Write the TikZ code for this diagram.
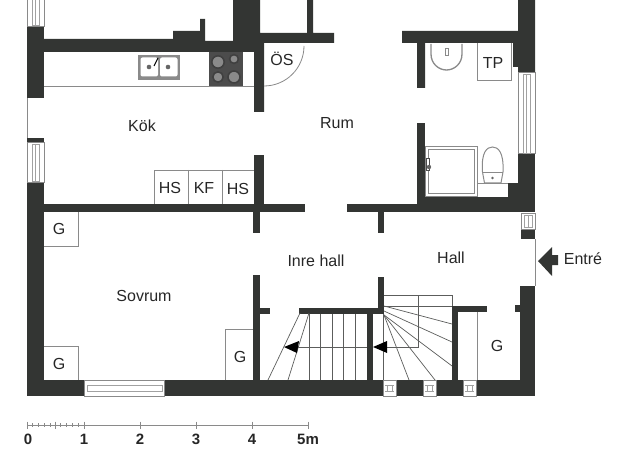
\documentclass[tikz,border=0pt]{standalone}
\usepackage{fontspec}
\setmainfont{Liberation Sans}
\definecolor{wallc}{HTML}{333533}
\definecolor{linec}{HTML}{8A8A8A}
\definecolor{textc}{HTML}{262626}
\tikzset{
  wall/.style={fill=wallc,draw=none},
  thin/.style={draw=linec,line width=0.8pt},
  stair/.style={draw=wallc!80,line width=0.7pt},
  win/.style={draw=linec,line width=0.8pt,fill=white},
  wininner/.style={draw=linec!80,line width=0.7pt},
  lbl/.style={font=\fontsize{16}{16}\selectfont,text=textc,inner sep=0pt},
  scl/.style={font=\fontsize{15}{15}\selectfont\bfseries,text=textc,inner sep=0pt},
  burner/.style={fill=linec,draw=black!75,line width=1.6pt},
  head/.style={fill=black,draw=none},
}
\begin{document}
\begin{tikzpicture}[x=1pt,y=-1pt]
\useasboundingbox (0,0) rectangle (625,460);
% thin outer lines
\draw[thin] (27,98) -- (27,138);
\draw[thin] (535,239) -- (535,286);
% walls
\fill[wall] (27,27) rectangle (44,98);
\fill[wall] (27,138) rectangle (44,142);
\fill[wall] (27,182) rectangle (44,396);
\fill[wall] (44,380) rectangle (84,396);
\fill[wall] (164,380) rectangle (383,396);
\fill[wall] (396,380) rectangle (423,396);
\fill[wall] (436,380) rectangle (463,396);
\fill[wall] (476,380) rectangle (535,396);
\fill[wall] (520,286) rectangle (535,396);
\fill[wall] (515,305) rectangle (520,312);
% north kitchen wall and column
\fill[wall] (44,39) -- (173,39) -- (173,31) -- (200,31) -- (200,19) -- (205,19) -- (205,41) -- (233,41) -- (233,0) -- (260,0) -- (260,33) -- (307,33) -- (307,0) -- (313,0) -- (313,33) -- (334,33) -- (334,43) -- (264,43) -- (264,112) -- (254,112) -- (254,52) -- (44,52) -- cycle;
% east bath walls
\fill[wall] (402,31) -- (518,31) -- (518,0) -- (535,0) -- (535,72) -- (518,72) -- (518,67) -- (513,67) -- (513,43) -- (425,43) -- (425,88) -- (417,88) -- (417,43) -- (402,43) -- cycle;
\fill[wall] (518,153) rectangle (535,212);
\fill[wall] (508,183) rectangle (518,204);
\fill[wall] (417,123) rectangle (425,204);
\fill[wall] (347,204) rectangle (535,212);
\fill[wall] (425,197) rectangle (518,204);
\fill[wall] (521,229) rectangle (535,239);
\fill[wall] (378,212) rectangle (384,233);
% south kitchen wall
\fill[wall] (44,204) rectangle (305,212);
\fill[wall] (254,155) rectangle (264,204);
\fill[wall] (253,212) rectangle (260,233);
% hall walls
\fill[wall] (253,275) rectangle (260,380);
\fill[wall] (260,308) rectangle (270,314);
\fill[wall] (299,308) rectangle (384,314);
\fill[wall] (378,277) rectangle (384,314);
\fill[wall] (367,314) rectangle (373,380);
\fill[wall] (452,306) rectangle (458,380);
\fill[wall] (458,306) rectangle (487,312);
% windows
\draw[win] (27,-2) rectangle (44,26);
\draw[wininner] (32,-2) rectangle (39,25);
\draw[wininner] (35.5,-2) -- (35.5,25);
\draw[win] (27,142) rectangle (44,182);
\draw[wininner] (32,144) rectangle (39,181);
\draw[wininner] (35.5,144) -- (35.5,181);
\draw[win] (518,72) rectangle (535,153);
\draw[wininner] (523,74) rectangle (530,153);
\draw[wininner] (526.5,74) -- (526.5,153);
\draw[win] (84,380) rectangle (164,396);
\draw[wininner] (87,385) rectangle (162,391);
\draw[win] (383,380) rectangle (396,396);
\draw[wininner] (385,385) -- (394,385) (385,391) -- (394,391) (387,385) -- (387,391) (392,385) -- (392,391);
\draw[win] (423,380) rectangle (436,396);
\draw[wininner] (425,385) -- (434,385) (425,391) -- (434,391) (427,385) -- (427,391) (432,385) -- (432,391);
\draw[win] (463,380) rectangle (476,396);
\draw[wininner] (465,385) -- (474,385) (465,391) -- (474,391) (467,385) -- (467,391) (472,385) -- (472,391);
\draw[win] (521,213) rectangle (535,229);
\draw[wininner] (524,215) rectangle (532,227);
\draw[wininner] (528,215) -- (528,227);
% kitchen fittings
\draw[thin] (44,86) -- (254,86);
\draw[thin] (264,86) arc[start angle=90,end angle=0,radius=40];
\fill[linec] (138,55) rectangle (180,80);
\fill[white,rounded corners=2pt] (140.5,57.5) rectangle (158,76.5);
\fill[white,rounded corners=2pt] (160,57.5) rectangle (177.5,76.5);
\fill[black!60] (149,67) circle (2.3);
\fill[black!60] (168,67) circle (2.3);
\draw[black,line width=1pt] (154,66) -- (158,58);
\fill[black!70] (209,52) rectangle (243,86);
\draw[burner] (218,62) circle (6.2);
\draw[burner] (234,59) circle (4.4);
\draw[burner] (218,77) circle (5.2);
\draw[burner] (234,77) circle (6);
% cupboards
\draw[thin] (154,204) -- (154,170) -- (254,170);
\draw[thin] (188,170) -- (188,204) (222,170) -- (222,204);
\draw[thin] (44,246) -- (78,246) -- (78,212);
\draw[thin] (44,346) -- (78,346) -- (78,380);
\draw[thin] (225,380) -- (225,329) -- (253,329);
\draw[thin] (477,312) -- (477,380);
% bathroom fittings
\draw[thin] (477,43) -- (477,80) -- (511,80) -- (511,43);
\draw[thin,line width=1.3pt] (431,44) -- (431,54) .. controls (431,64) and (439,70) .. (446.5,70) .. controls (454,70) and (462,64) .. (462,54) -- (462,44);
\fill[white,draw=linec,line width=0.7pt] (445,48) rectangle (448,55);
\draw[thin,line width=1pt] (425,147) rectangle (477,197);
\draw[thin,line width=1pt] (428,150) rectangle (474,194);
\fill[white,draw=black!70,line width=0.7pt] (426,158) rectangle (429,170);
\fill[black!60] (429,167) circle (2.2);
\draw[thin,line width=1pt] (482.5,172) .. controls (481,152) and (487,147) .. (492.5,147) .. controls (498,147) and (504,152) .. (503,172) -- (501,183) -- (484.5,183) -- cycle;
\draw[thin] (483,172) -- (503,172);
\fill[black!60] (492.5,178) circle (1.4);
\draw[thin] (477,197) -- (477,183.5) -- (508,183.5);
% stairs
\draw[stair] (300,313) -- (268,380);
\draw[stair] (309,313) -- (288,380);
\draw[stair] (309,314) -- (309,380) (320,314) -- (320,380) (332,314) -- (332,380) (343,314) -- (343,380) (355,314) -- (355,380);
\draw[stair] (298,347) -- (367,347);
\draw[stair] (383.5,314) -- (383.5,380);
\draw[stair] (387,347) -- (418,347) -- (418,295);
\draw[stair] (384,295) -- (452,295) -- (452,306);
\draw[stair] (384,306) -- (452,306);
\draw[stair] (384,306) -- (452,324);
\draw[stair] (384,311) -- (452,342);
\draw[stair] (384,315) -- (452,366);
\draw[stair] (384,315) -- (435,380);
\draw[stair] (384,315) -- (409,380);
\fill[head] (284,347) -- (299,341) -- (297,353) -- cycle;
\fill[head] (373,347) -- (387,341) -- (387,353) -- cycle;
% entry arrow
\fill[wall] (538,261) -- (552,247) -- (552,255) -- (558,255) -- (558,265) -- (552,265) -- (552,276) -- cycle;
% scale
\draw[thin] (27,425) -- (308,425);
\foreach \p in {27,55,84,140,196,252,308} \draw[thin] (\p,421.5) -- (\p,428.5);
\foreach \p in {32.7,38.4,44.1,49.8,60.7,66.4,72.1,77.8} \draw[thin,line width=0.6pt] (\p,423) -- (\p,427);
% labels
\node[lbl] (kok) at (142,126) {Kök};
\node[lbl] (rum) at (337,123) {Rum};
\node[lbl] (sov) at (144,296) {Sovrum};
\node[lbl] (inre) at (316,261) {Inre hall};
\node[lbl] (hall) at (451,258) {Hall};
\node[lbl] (entre) at (583,259) {Entré};
\node[lbl] (os) at (282,59) {ÖS};
\node[lbl] (hsa) at (170,188) {HS};
\node[lbl] (kf) at (204,188) {KF};
\node[lbl] (hsb) at (238,189) {HS};
\node[lbl] (ga) at (59,229) {G};
\node[lbl] (gb) at (59,364) {G};
\node[lbl] (gc) at (240,357) {G};
\node[lbl] (gd) at (497,346) {G};
\node[lbl] (tp) at (493,63) {TP};
\node[scl] (s0) at (28,439) {0};
\node[scl] (s1) at (84,439) {1};
\node[scl] (s2) at (140,439) {2};
\node[scl] (s3) at (196,439) {3};
\node[scl] (s4) at (252,439) {4};
\node[scl] (s5) at (308,439) {5m};
\end{tikzpicture}
\end{document}
